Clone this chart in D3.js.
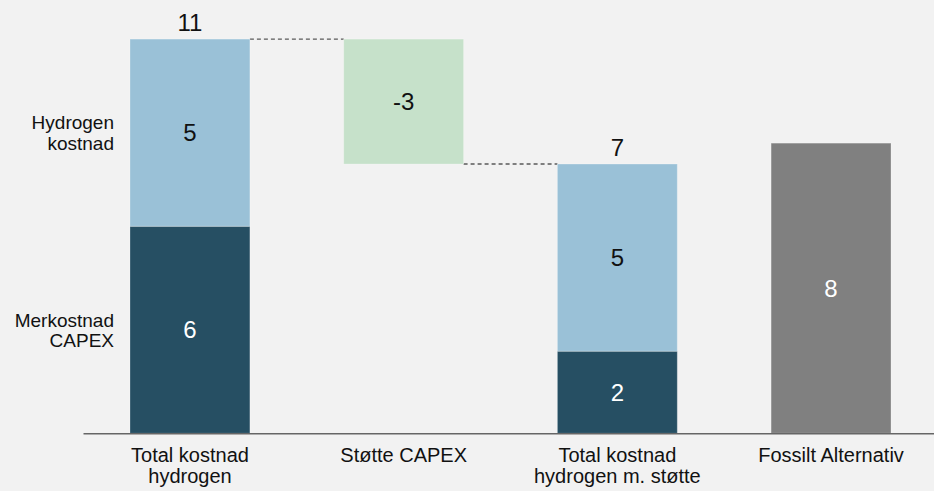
<!DOCTYPE html>
<html>
<head>
<meta charset="utf-8">
<script src="https://cdn.jsdelivr.net/npm/d3@7"></script>
<style>
  html, body { margin: 0; padding: 0; background: #F2F2F2; }
  svg { display: block; font-family: "Liberation Sans", Arial, sans-serif; }
</style>
</head>
<body>
<svg id="chart" width="934" height="491"></svg>
<script>
// ---- data ----
const categories = [
  "Total kostnad hydrogen",
  "Støtte CAPEX",
  "Total kostnad hydrogen m. støtte",
  "Fossilt Alternativ"
];
const categoryLines = [
  ["Total kostnad", "hydrogen"],
  ["Støtte CAPEX"],
  ["Total kostnad", "hydrogen m. støtte"],
  ["Fossilt Alternativ"]
];
const capexValues    = [5.75, null, 2.28, null];   // Merkostnad CAPEX
const hydrogenValues = [5.2,  null, 5.2,  null];   // Hydrogen kostnad
const supportValues  = [null, -3.47, null, null];  // Støtte CAPEX
const fossilValues   = [null, null, null, 8.06];   // Fossilt Alternativ
const seriesLabels   = [["Hydrogen", "kostnad"], ["Merkostnad", "CAPEX"]];

const colors = {
  capex: "#264F63",
  hydrogen: "#9AC1D7",
  support: "#C6E1CA",
  fossil: "#808080"
};

// ---- layout ----
const svg = d3.select("#chart");
const W = 934, H = 491;
const baseY = 433.3;

const x = d3.scaleBand()
  .domain(categories)
  .range([83, 938])
  .paddingInner(0.439)
  .paddingOuter(0.22);

const y = d3.scaleLinear().domain([0, 12]).range([baseY, baseY - 432]);

svg.append("rect").attr("width", W).attr("height", H).attr("fill", "#F2F2F2");

// build segments
const segs = [];
const totals = [];
let running = 0;
categories.forEach((c, i) => {
  if (capexValues[i] != null || hydrogenValues[i] != null) {
    let b = 0;
    if (capexValues[i] != null) {
      segs.push({cat: c, y0: b, y1: b + capexValues[i], fill: colors.capex, label: Math.round(capexValues[i]), tc: "#FFFFFF"});
      b += capexValues[i];
    }
    if (hydrogenValues[i] != null) {
      segs.push({cat: c, y0: b, y1: b + hydrogenValues[i], fill: colors.hydrogen, label: Math.round(hydrogenValues[i]), tc: "#111111"});
      b += hydrogenValues[i];
    }
    totals.push({cat: c, v: b, i: i});
    running = b;
  } else if (supportValues[i] != null) {
    const s = supportValues[i];
    segs.push({cat: c, y0: running + s, y1: running, fill: colors.support, label: Math.round(s), tc: "#111111"});
    running = running + s;
  } else if (fossilValues[i] != null) {
    segs.push({cat: c, y0: 0, y1: fossilValues[i], fill: colors.fossil, label: Math.round(fossilValues[i]), tc: "#FFFFFF"});
  }
});

// connectors
const connectors = [];
{
  const t1 = totals[0];
  connectors.push({x1: x(categories[0]) + x.bandwidth(), x2: x(categories[1]), v: t1.v});
  connectors.push({x1: x(categories[1]) + x.bandwidth(), x2: x(categories[2]), v: t1.v + supportValues[1]});
}
svg.append("g").selectAll("line").data(connectors).join("line")
  .attr("x1", d => d.x1).attr("x2", d => d.x2)
  .attr("y1", d => y(d.v)).attr("y2", d => y(d.v))
  .attr("stroke", "#5A5A5A").attr("stroke-width", 1.3)
  .attr("stroke-dasharray", "4,3");

// bars
svg.append("g").selectAll("rect").data(segs).join("rect")
  .attr("x", d => x(d.cat))
  .attr("width", x.bandwidth())
  .attr("y", d => y(d.y1))
  .attr("height", d => y(d.y0) - y(d.y1))
  .attr("fill", d => d.fill)
  .attr("stroke", "rgba(255,255,255,0.25)")
  .attr("stroke-width", 1);

// segment labels
svg.append("g").selectAll("text").data(segs).join("text")
  .attr("x", d => x(d.cat) + x.bandwidth() / 2)
  .attr("y", d => (y(d.y0) + y(d.y1)) / 2)
  .attr("dy", "0.36em")
  .attr("text-anchor", "middle")
  .attr("font-size", 24)
  .attr("fill", d => d.tc)
  .text(d => d.label);

// total labels
svg.append("g").selectAll("text").data(totals).join("text")
  .attr("x", d => x(d.cat) + x.bandwidth() / 2)
  .attr("y", d => y(d.v) - 8.5)
  .attr("text-anchor", "middle")
  .attr("font-size", 24)
  .attr("fill", "#111111")
  .text(d => Math.round(d.v));

// x axis
const axis = svg.append("g")
  .attr("transform", `translate(0,${baseY})`)
  .call(d3.axisBottom(x).tickSize(0).tickSizeOuter(0).tickPadding(0));
axis.select(".domain").attr("stroke", "#666666").attr("stroke-width", 1.5);
axis.selectAll(".tick text").each(function(d) {
  const t = d3.select(this);
  const i = categories.indexOf(d);
  t.text(null).attr("y", 0).attr("dy", null)
   .attr("font-size", 20).attr("fill", "#111111")
   .attr("font-family", "Liberation Sans, Arial, sans-serif");
  categoryLines[i].forEach((ln, k) => {
    t.append("tspan").attr("x", 0).attr("y", 28.4 + k * 21.6).text(ln);
  });
});

// series labels left of first bar
const segFirst = segs.filter(s => s.cat === categories[0]);
const sideData = [
  {lines: seriesLabels[0], seg: segFirst[1]},
  {lines: seriesLabels[1], seg: segFirst[0]}
];
sideData.forEach(sd => {
  const cy = (y(sd.seg.y0) + y(sd.seg.y1)) / 2;
  const t = svg.append("text")
    .attr("text-anchor", "end")
    .attr("font-size", 19)
    .attr("fill", "#111111");
  sd.lines.forEach((ln, k) => {
    t.append("tspan").attr("x", 114).attr("y", cy - 3.3 + k * 20.4).text(ln);
  });
});
</script>
</body>
</html>
